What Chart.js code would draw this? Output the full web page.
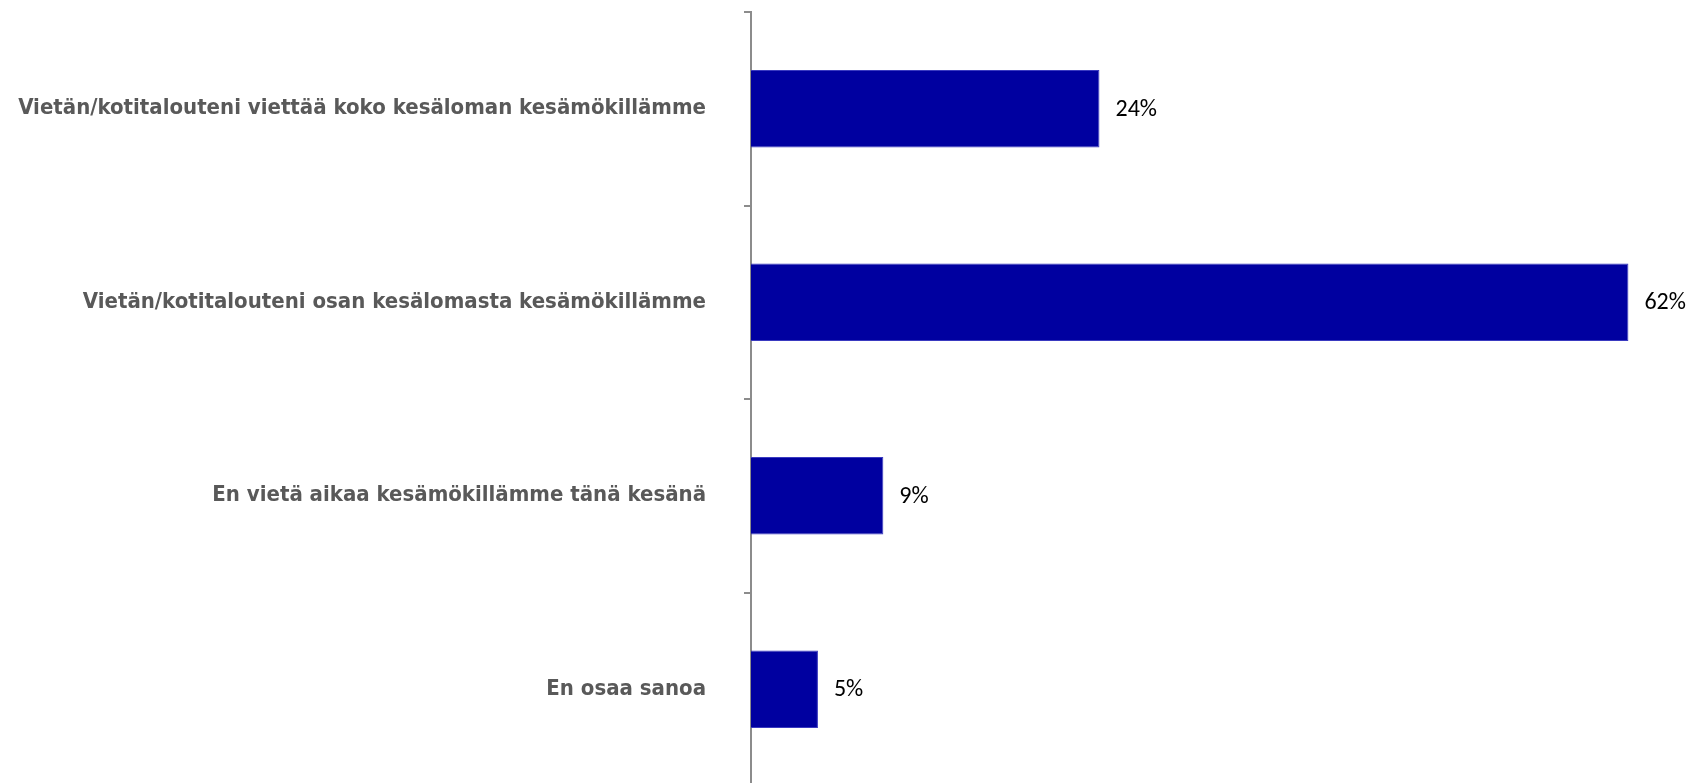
<!DOCTYPE html>
<html>
<head>
<meta charset="utf-8">
<script src="https://cdn.jsdelivr.net/npm/chart.js@4/dist/chart.umd.min.js"></script>
<style>
  html, body { margin: 0; padding: 0; background: #fff; overflow: hidden; }
  #wrap { position: relative; width: 1687px; height: 786px; }
</style>
</head>
<body>
<div id="wrap"><canvas id="chart"></canvas></div>
<script>
const categories = [
  "Vietän/kotitalouteni viettää koko kesäloman kesämökillämme",
  "Vietän/kotitalouteni osan kesälomasta kesämökillämme",
  "En vietä aikaa kesämökillämme tänä kesänä",
  "En osaa sanoa",
];
const shares = [24.46, 61.59, 9.29, 4.7];
const shareLabels = ["24%", "62%", "9%", "5%"];

const valueLabelPlugin = {
  id: "valueLabels",
  afterDatasetsDraw(chart) {
    const ctx = chart.ctx;
    const meta = chart.getDatasetMeta(0);
    ctx.save();
    ctx.font = "24px Carlito, 'Liberation Sans Narrow', 'Open Sans', sans-serif";
    ctx.fillStyle = "#000";
    ctx.textAlign = "left";
    ctx.textBaseline = "middle";
    meta.data.forEach((bar, i) => {
      ctx.fillText(shareLabels[i], bar.x + 16, bar.y + 1);
    });
    ctx.restore();
  },
};

new Chart(document.getElementById("chart"), {
  type: "bar",
  data: {
    labels: categories,
    datasets: [
      {
        data: shares,
        backgroundColor: "#0000a0",
        borderColor: "#3a3ac0",
        borderWidth: 1,
        categoryPercentage: 1,
        barPercentage: 0.4,
      },
    ],
  },
  plugins: [valueLabelPlugin],
  options: {
    indexAxis: "y",
    responsive: true,
    maintainAspectRatio: false,
    animation: false,
    layout: {
      padding: { top: 12, right: 10, bottom: 0, left: 0 },
    },
    scales: {
      x: {
        display: false,
        min: 0,
        max: 65,
      },
      y: {
        afterFit(scale) {
          scale.width = 751;
          scale.paddingTop = 0;
          scale.paddingBottom = 0;
        },
        border: {
          color: "#8c8c8c",
          width: 2,
        },
        grid: {
          offset: true,
          drawOnChartArea: false,
          color: "#8c8c8c",
          lineWidth: 2,
          tickLength: 7,
        },
        ticks: {
          color: "#595959",
          padding: 38,
          font: {
            family: "'DejaVu Sans Condensed', 'DejaVu Sans', sans-serif",
            weight: "bold",
            size: 22,
          },
        },
      },
    },
    plugins: {
      legend: { display: false },
      tooltip: { enabled: false },
    },
  },
});
</script>
</body>
</html>
